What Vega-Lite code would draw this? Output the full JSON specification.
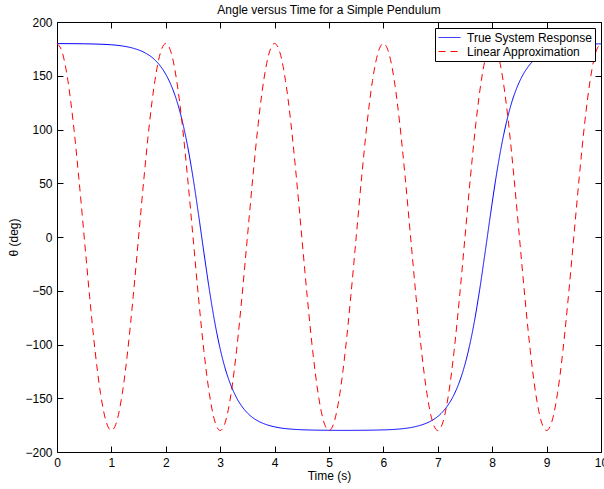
{
  "$schema": "https://vega.github.io/schema/vega-lite/v6.json",
  "autosize": {"type": "none"},
  "width": 544,
  "height": 430,
  "padding": {"left": 57, "top": 22, "right": 3, "bottom": 37},
  "background": "white",
  "title": {"text": "Angle versus Time for a Simple Pendulum", "fontSize": 12, "font": "Liberation Sans", "fontWeight": "normal", "color": "black", "offset": 7, "dy": 8},
  "config": {
    "view": {"stroke": "black", "strokeWidth": 1},
    "axis": {"labelFont": "Liberation Sans", "labelFontSize": 12, "labelColor": "black", "titleFont": "Liberation Sans", "titleFontSize": 12, "titleFontWeight": "normal", "titleColor": "black", "domain": false, "ticks": true, "tickColor": "black", "tickWidth": 1, "tickOpacity": 1, "grid": false, "tickSize": 6, "offset": -6, "labelPadding": 5, "labelFlush": false, "zindex": 2},
    "legend": {"labelFont": "Liberation Sans", "labelFontSize": 12, "labelColor": "black"}
  },
  "datasets": {
    "truth": [
      {"t": 0, "theta": 179.9, "series": "True System Response"},
      {"t": 0.5, "theta": 179.7, "series": "True System Response"},
      {"t": 1.0, "theta": 178.8, "series": "True System Response"},
      {"t": 1.2, "theta": 177.7, "series": "True System Response"},
      {"t": 1.4, "theta": 175.6, "series": "True System Response"},
      {"t": 1.6, "theta": 171.8, "series": "True System Response"},
      {"t": 1.8, "theta": 164.7, "series": "True System Response"},
      {"t": 1.9, "theta": 159.0, "series": "True System Response"},
      {"t": 2.0, "theta": 151.3, "series": "True System Response"},
      {"t": 2.1, "theta": 140.9, "series": "True System Response"},
      {"t": 2.2, "theta": 127.0, "series": "True System Response"},
      {"t": 2.3, "theta": 108.5, "series": "True System Response"},
      {"t": 2.4, "theta": 84.7, "series": "True System Response"},
      {"t": 2.5, "theta": 55.4, "series": "True System Response"},
      {"t": 2.6, "theta": 21.5, "series": "True System Response"},
      {"t": 2.7, "theta": -14.3, "series": "True System Response"},
      {"t": 2.8, "theta": -48.8, "series": "True System Response"},
      {"t": 2.9, "theta": -79.3, "series": "True System Response"},
      {"t": 3.0, "theta": -104.2, "series": "True System Response"},
      {"t": 3.1, "theta": -123.7, "series": "True System Response"},
      {"t": 3.2, "theta": -138.4, "series": "True System Response"},
      {"t": 3.3, "theta": -149.5, "series": "True System Response"},
      {"t": 3.4, "theta": -157.6, "series": "True System Response"},
      {"t": 3.5, "theta": -163.7, "series": "True System Response"},
      {"t": 3.6, "theta": -168.1, "series": "True System Response"},
      {"t": 3.7, "theta": -171.3, "series": "True System Response"},
      {"t": 3.8, "theta": -173.6, "series": "True System Response"},
      {"t": 4.0, "theta": -176.6, "series": "True System Response"},
      {"t": 4.3, "theta": -178.7, "series": "True System Response"},
      {"t": 4.7, "theta": -179.6, "series": "True System Response"},
      {"t": 5.0, "theta": -179.8, "series": "True System Response"},
      {"t": 5.27, "theta": -179.9, "series": "True System Response"},
      {"t": 5.57, "theta": -179.8, "series": "True System Response"},
      {"t": 5.87, "theta": -179.6, "series": "True System Response"},
      {"t": 6.27, "theta": -178.7, "series": "True System Response"},
      {"t": 6.57, "theta": -176.6, "series": "True System Response"},
      {"t": 6.77, "theta": -173.6, "series": "True System Response"},
      {"t": 6.87, "theta": -171.3, "series": "True System Response"},
      {"t": 6.97, "theta": -168.1, "series": "True System Response"},
      {"t": 7.07, "theta": -163.7, "series": "True System Response"},
      {"t": 7.17, "theta": -157.6, "series": "True System Response"},
      {"t": 7.27, "theta": -149.5, "series": "True System Response"},
      {"t": 7.37, "theta": -138.4, "series": "True System Response"},
      {"t": 7.47, "theta": -123.7, "series": "True System Response"},
      {"t": 7.57, "theta": -104.2, "series": "True System Response"},
      {"t": 7.67, "theta": -79.3, "series": "True System Response"},
      {"t": 7.77, "theta": -48.8, "series": "True System Response"},
      {"t": 7.87, "theta": -14.3, "series": "True System Response"},
      {"t": 7.97, "theta": 21.5, "series": "True System Response"},
      {"t": 8.07, "theta": 55.4, "series": "True System Response"},
      {"t": 8.17, "theta": 84.7, "series": "True System Response"},
      {"t": 8.27, "theta": 108.5, "series": "True System Response"},
      {"t": 8.37, "theta": 127.0, "series": "True System Response"},
      {"t": 8.47, "theta": 140.9, "series": "True System Response"},
      {"t": 8.57, "theta": 151.3, "series": "True System Response"},
      {"t": 8.67, "theta": 159.0, "series": "True System Response"},
      {"t": 8.77, "theta": 164.7, "series": "True System Response"},
      {"t": 8.97, "theta": 171.8, "series": "True System Response"},
      {"t": 9.17, "theta": 175.6, "series": "True System Response"},
      {"t": 9.37, "theta": 177.7, "series": "True System Response"},
      {"t": 9.57, "theta": 178.8, "series": "True System Response"},
      {"t": 10.0, "theta": 179.7, "series": "True System Response"}
    ],
    "linear": [
      {"t": 0.0, "theta": 180, "series": "Linear Approximation"},
      {"t": 0.1, "theta": 171.2, "series": "Linear Approximation"},
      {"t": 0.2, "theta": 145.6, "series": "Linear Approximation"},
      {"t": 0.3, "theta": 105.8, "series": "Linear Approximation"},
      {"t": 0.4, "theta": 55.6, "series": "Linear Approximation"},
      {"t": 0.5, "theta": 0, "series": "Linear Approximation"},
      {"t": 0.6, "theta": -55.6, "series": "Linear Approximation"},
      {"t": 0.7, "theta": -105.8, "series": "Linear Approximation"},
      {"t": 0.8, "theta": -145.6, "series": "Linear Approximation"},
      {"t": 0.9, "theta": -171.2, "series": "Linear Approximation"},
      {"t": 1.0, "theta": -180, "series": "Linear Approximation"},
      {"t": 1.1, "theta": -171.2, "series": "Linear Approximation"},
      {"t": 1.2, "theta": -145.6, "series": "Linear Approximation"},
      {"t": 1.3, "theta": -105.8, "series": "Linear Approximation"},
      {"t": 1.4, "theta": -55.6, "series": "Linear Approximation"},
      {"t": 1.5, "theta": 0, "series": "Linear Approximation"},
      {"t": 1.6, "theta": 55.6, "series": "Linear Approximation"},
      {"t": 1.7, "theta": 105.8, "series": "Linear Approximation"},
      {"t": 1.8, "theta": 145.6, "series": "Linear Approximation"},
      {"t": 1.9, "theta": 171.2, "series": "Linear Approximation"},
      {"t": 2.0, "theta": 180, "series": "Linear Approximation"},
      {"t": 2.1, "theta": 171.2, "series": "Linear Approximation"},
      {"t": 2.2, "theta": 145.6, "series": "Linear Approximation"},
      {"t": 2.3, "theta": 105.8, "series": "Linear Approximation"},
      {"t": 2.4, "theta": 55.6, "series": "Linear Approximation"},
      {"t": 2.5, "theta": 0, "series": "Linear Approximation"},
      {"t": 2.6, "theta": -55.6, "series": "Linear Approximation"},
      {"t": 2.7, "theta": -105.8, "series": "Linear Approximation"},
      {"t": 2.8, "theta": -145.6, "series": "Linear Approximation"},
      {"t": 2.9, "theta": -171.2, "series": "Linear Approximation"},
      {"t": 3.0, "theta": -180, "series": "Linear Approximation"},
      {"t": 3.1, "theta": -171.2, "series": "Linear Approximation"},
      {"t": 3.2, "theta": -145.6, "series": "Linear Approximation"},
      {"t": 3.3, "theta": -105.8, "series": "Linear Approximation"},
      {"t": 3.4, "theta": -55.6, "series": "Linear Approximation"},
      {"t": 3.5, "theta": 0, "series": "Linear Approximation"},
      {"t": 3.6, "theta": 55.6, "series": "Linear Approximation"},
      {"t": 3.7, "theta": 105.8, "series": "Linear Approximation"},
      {"t": 3.8, "theta": 145.6, "series": "Linear Approximation"},
      {"t": 3.9, "theta": 171.2, "series": "Linear Approximation"},
      {"t": 4.0, "theta": 180, "series": "Linear Approximation"},
      {"t": 4.1, "theta": 171.2, "series": "Linear Approximation"},
      {"t": 4.2, "theta": 145.6, "series": "Linear Approximation"},
      {"t": 4.3, "theta": 105.8, "series": "Linear Approximation"},
      {"t": 4.4, "theta": 55.6, "series": "Linear Approximation"},
      {"t": 4.5, "theta": 0, "series": "Linear Approximation"},
      {"t": 4.6, "theta": -55.6, "series": "Linear Approximation"},
      {"t": 4.7, "theta": -105.8, "series": "Linear Approximation"},
      {"t": 4.8, "theta": -145.6, "series": "Linear Approximation"},
      {"t": 4.9, "theta": -171.2, "series": "Linear Approximation"},
      {"t": 5.0, "theta": -180, "series": "Linear Approximation"},
      {"t": 5.1, "theta": -171.2, "series": "Linear Approximation"},
      {"t": 5.2, "theta": -145.6, "series": "Linear Approximation"},
      {"t": 5.3, "theta": -105.8, "series": "Linear Approximation"},
      {"t": 5.4, "theta": -55.6, "series": "Linear Approximation"},
      {"t": 5.5, "theta": 0, "series": "Linear Approximation"},
      {"t": 5.6, "theta": 55.6, "series": "Linear Approximation"},
      {"t": 5.7, "theta": 105.8, "series": "Linear Approximation"},
      {"t": 5.8, "theta": 145.6, "series": "Linear Approximation"},
      {"t": 5.9, "theta": 171.2, "series": "Linear Approximation"},
      {"t": 6.0, "theta": 180, "series": "Linear Approximation"},
      {"t": 6.1, "theta": 171.2, "series": "Linear Approximation"},
      {"t": 6.2, "theta": 145.6, "series": "Linear Approximation"},
      {"t": 6.3, "theta": 105.8, "series": "Linear Approximation"},
      {"t": 6.4, "theta": 55.6, "series": "Linear Approximation"},
      {"t": 6.5, "theta": 0, "series": "Linear Approximation"},
      {"t": 6.6, "theta": -55.6, "series": "Linear Approximation"},
      {"t": 6.7, "theta": -105.8, "series": "Linear Approximation"},
      {"t": 6.8, "theta": -145.6, "series": "Linear Approximation"},
      {"t": 6.9, "theta": -171.2, "series": "Linear Approximation"},
      {"t": 7.0, "theta": -180, "series": "Linear Approximation"},
      {"t": 7.1, "theta": -171.2, "series": "Linear Approximation"},
      {"t": 7.2, "theta": -145.6, "series": "Linear Approximation"},
      {"t": 7.3, "theta": -105.8, "series": "Linear Approximation"},
      {"t": 7.4, "theta": -55.6, "series": "Linear Approximation"},
      {"t": 7.5, "theta": 0, "series": "Linear Approximation"},
      {"t": 7.6, "theta": 55.6, "series": "Linear Approximation"},
      {"t": 7.7, "theta": 105.8, "series": "Linear Approximation"},
      {"t": 7.8, "theta": 145.6, "series": "Linear Approximation"},
      {"t": 7.9, "theta": 171.2, "series": "Linear Approximation"},
      {"t": 8.0, "theta": 180, "series": "Linear Approximation"},
      {"t": 8.1, "theta": 171.2, "series": "Linear Approximation"},
      {"t": 8.2, "theta": 145.6, "series": "Linear Approximation"},
      {"t": 8.3, "theta": 105.8, "series": "Linear Approximation"},
      {"t": 8.4, "theta": 55.6, "series": "Linear Approximation"},
      {"t": 8.5, "theta": 0, "series": "Linear Approximation"},
      {"t": 8.6, "theta": -55.6, "series": "Linear Approximation"},
      {"t": 8.7, "theta": -105.8, "series": "Linear Approximation"},
      {"t": 8.8, "theta": -145.6, "series": "Linear Approximation"},
      {"t": 8.9, "theta": -171.2, "series": "Linear Approximation"},
      {"t": 9.0, "theta": -180, "series": "Linear Approximation"},
      {"t": 9.1, "theta": -171.2, "series": "Linear Approximation"},
      {"t": 9.2, "theta": -145.6, "series": "Linear Approximation"},
      {"t": 9.3, "theta": -105.8, "series": "Linear Approximation"},
      {"t": 9.4, "theta": -55.6, "series": "Linear Approximation"},
      {"t": 9.5, "theta": 0, "series": "Linear Approximation"},
      {"t": 9.6, "theta": 55.6, "series": "Linear Approximation"},
      {"t": 9.7, "theta": 105.8, "series": "Linear Approximation"},
      {"t": 9.8, "theta": 145.6, "series": "Linear Approximation"},
      {"t": 9.9, "theta": 171.2, "series": "Linear Approximation"},
      {"t": 10.0, "theta": 180, "series": "Linear Approximation"}
    ]
  },
  "layer": [
    {
      "data": {"name": "truth"},
      "mark": {"type": "line", "interpolate": "monotone", "strokeWidth": 1, "clip": true},
      "encoding": {
        "x": {"field": "t", "type": "quantitative", "scale": {"domain": [0, 10], "nice": false, "zero": false},
              "axis": {"orient": "bottom", "title": "Time (s)", "values": [0,1,2,3,4,5,6,7,8,9,10], "titlePadding": 2}},
        "y": {"field": "theta", "type": "quantitative", "scale": {"domain": [-200, 200], "nice": false},
              "axis": {"orient": "left", "title": "θ (deg)", "values": [-200,-150,-100,-50,0,50,100,150,200], "titlePadding": 4}},
        "color": {"field": "series", "type": "nominal",
                  "scale": {"domain": ["True System Response", "Linear Approximation"], "range": ["#0000ff", "#ff0000"]},
                  "legend": {"title": null, "orient": "top-right", "offset": 6, "symbolType": "stroke", "symbolSize": 480, "symbolStrokeWidth": 1, "strokeColor": "black", "fillColor": "white", "padding": 3, "rowPadding": 1, "clipHeight": 13, "labelOffset": 6}},
        "strokeDash": {"field": "series", "type": "nominal",
                  "scale": {"domain": ["True System Response", "Linear Approximation"], "range": [[1, 0], [7, 5]]},
                  "legend": {"title": null, "orient": "top-right", "offset": 6, "symbolType": "stroke", "symbolSize": 480, "symbolStrokeWidth": 1, "strokeColor": "black", "fillColor": "white", "padding": 3, "rowPadding": 1, "clipHeight": 13, "labelOffset": 6}}
      }
    },
    {
      "data": {"name": "linear"},
      "mark": {"type": "line", "interpolate": "monotone", "strokeWidth": 1, "clip": true},
      "encoding": {
        "x": {"field": "t", "type": "quantitative",
              "axis": {"orient": "top", "title": null, "labels": false, "values": [0,1,2,3,4,5,6,7,8,9,10]}},
        "y": {"field": "theta", "type": "quantitative",
              "axis": {"orient": "right", "title": null, "labels": false, "values": [-200,-150,-100,-50,0,50,100,150,200]}},
        "color": {"field": "series", "type": "nominal"},
        "strokeDash": {"field": "series", "type": "nominal"}
      }
    }
  ],
  "resolve": {"axis": {"x": "independent", "y": "independent"}}
}
